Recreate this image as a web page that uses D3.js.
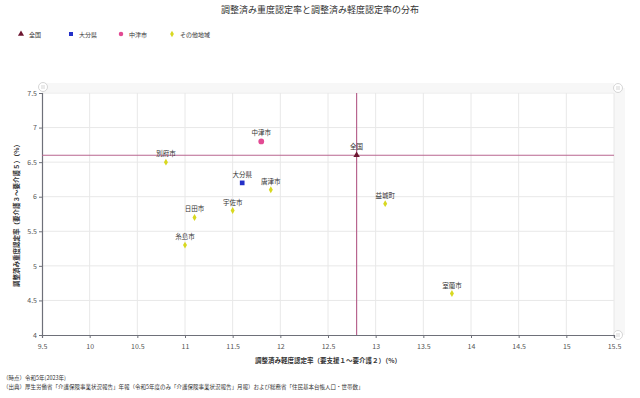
<!DOCTYPE html>
<html>
<head>
<meta charset="utf-8">
<script src="https://cdn.jsdelivr.net/npm/d3@7"></script>
<style>
  body { margin: 0; background: #fff; }
  text { font-family: "Noto Sans CJK JP", "Noto Sans", sans-serif; }
</style>
</head>
<body>
<div id="chart"></div>
<script>
// series
const nationName = '全国';
const nationPoint = [12.8, 6.6];
const prefName = '大分県';
const prefPoint = [11.6, 6.2];
const cityName = '中津市';
const cityPoint = [11.8, 6.8];
const otherNames = ['別府市', '唐津市', '宇佐市', '日田市', '糸島市', '益城町', '室蘭市'];
const otherLight = [10.8, 11.9, 11.5, 11.1, 11.0, 13.1, 13.8];
const otherHeavy = [6.5, 6.1, 5.8, 5.7, 5.3, 5.9, 4.6];
const legendNames = ['全国', '大分県', '中津市', 'その他地域'];
const xTicks = [9.5, 10, 10.5, 11, 11.5, 12, 12.5, 13, 13.5, 14, 14.5, 15, 15.5];
const yTicks = [4, 4.5, 5, 5.5, 6, 6.5, 7, 7.5];

const width = 640;
const height = 398;
const margin = { top: 93, right: 26, bottom: 63, left: 42 };

const svg = d3.select('#chart')
  .append('svg')
  .attr('width', width)
  .attr('height', height);

const x = d3.scaleLinear().domain([9.5, 15.5]).range([margin.left, width - margin.right]);
const y = d3.scaleLinear().domain([4, 7.5]).range([height - margin.bottom, margin.top]);

// title
svg.append('text')
  .attr('x', 320)
  .attr('y', 13)
  .attr('text-anchor', 'middle')
  .attr('font-size', 9)
  .attr('fill', '#333')
  .text('調整済み重度認定率と調整済み軽度認定率の分布');

// legend
const colors = ['#6d1630', '#2430c8', '#e24a93', '#d8d820'];
const symbols = [d3.symbolTriangle, d3.symbolSquare, d3.symbolCircle, d3.symbolDiamond];
const legendX = [21, 71, 121, 172];
const legend = svg.append('g').attr('class', 'legend');
legendNames.forEach((name, i) => {
  legend.append('path')
    .attr('d', d3.symbol().type(symbols[i]).size(i === 3 ? 12 : 16)())
    .attr('transform', `translate(${legendX[i]},34)`)
    .attr('fill', colors[i]);
  legend.append('text')
    .attr('x', legendX[i] + 8)
    .attr('y', 36.5)
    .attr('font-size', 6)
    .attr('fill', '#333')
    .text(name);
});

// zoom slider bands (faint)
svg.append('rect')
  .attr('x', margin.left).attr('y', 83)
  .attr('width', x(15.5) - margin.left).attr('height', 9)
  .attr('fill', '#f7f7f7');
svg.append('rect')
  .attr('x', x(15.5)).attr('y', 88)
  .attr('width', 11).attr('height', y(4) - 88)
  .attr('fill', '#f7f7f7');
[[margin.left + 1, 87], [x(15.5) + 4, 88], [x(15.5) + 4, y(4)]].forEach(([cx, cy]) => {
  svg.append('circle')
    .attr('cx', cx).attr('cy', cy).attr('r', 4.5)
    .attr('fill', '#fff').attr('stroke', '#ccc').attr('stroke-width', 0.8);
  svg.append('line')
    .attr('x1', cx - 1).attr('x2', cx - 1).attr('y1', cy - 2).attr('y2', cy + 2)
    .attr('stroke', '#bbb').attr('stroke-width', 0.6);
  svg.append('line')
    .attr('x1', cx + 1).attr('x2', cx + 1).attr('y1', cy - 2).attr('y2', cy + 2)
    .attr('stroke', '#bbb').attr('stroke-width', 0.6);
});

// grid
const grid = svg.append('g').attr('class', 'grid');
grid.selectAll('line.v')
  .data(xTicks.slice(1))
  .enter()
  .append('line')
  .attr('x1', d => x(d)).attr('x2', d => x(d))
  .attr('y1', y(7.5)).attr('y2', y(4))
  .attr('stroke', '#e8e8e8').attr('stroke-width', 1);
grid.selectAll('line.h')
  .data(yTicks.slice(1))
  .enter()
  .append('line')
  .attr('x1', x(9.5)).attr('x2', x(15.5))
  .attr('y1', d => y(d)).attr('y2', d => y(d))
  .attr('stroke', '#e8e8e8').attr('stroke-width', 1);

// axes
const xAxis = svg.append('g')
  .attr('transform', `translate(0,${y(4)})`)
  .call(d3.axisBottom(x).tickValues(xTicks).tickSize(3).tickFormat(d3.format('')));
const yAxis = svg.append('g')
  .attr('transform', `translate(${x(9.5)},0)`)
  .call(d3.axisLeft(y).tickValues(yTicks).tickSize(3).tickFormat(d3.format('')));
[xAxis, yAxis].forEach(ax => {
  ax.select('.domain').attr('stroke', '#6e7079').attr('stroke-width', 1.2);
  ax.selectAll('.tick line').attr('stroke', '#6e7079');
  ax.selectAll('.tick text')
    .attr('fill', '#555')
    .attr('font-size', 7)
    .style('font-family', '"Noto Sans CJK JP", sans-serif');
});
xAxis.selectAll('.tick text').attr('dy', '1.1em');
yAxis.selectAll('.tick text').attr('x', -5);

// axis titles
svg.append('text')
  .attr('x', 328)
  .attr('y', 363)
  .attr('text-anchor', 'middle')
  .attr('font-size', 6.5)
  .attr('font-weight', 'bold')
  .attr('fill', '#333')
  .text('調整済み軽度認定率（要支援１～要介護２）（%）');
svg.append('text')
  .attr('transform', `translate(19,${(y(4) + y(7.5)) / 2}) rotate(-90)`)
  .attr('text-anchor', 'middle')
  .attr('font-size', 6.5)
  .attr('font-weight', 'bold')
  .attr('fill', '#333')
  .text('調整済み重度認定率（要介護３～要介護５）（%）');

// national reference lines
const refColor = '#b8668f';
svg.append('line')
  .attr('x1', x(9.5)).attr('x2', x(15.5))
  .attr('y1', y(nationPoint[1])).attr('y2', y(nationPoint[1]))
  .attr('stroke', refColor).attr('stroke-width', 1.2);
svg.append('line')
  .attr('x1', x(nationPoint[0])).attr('x2', x(nationPoint[0]))
  .attr('y1', y(7.5)).attr('y2', y(4))
  .attr('stroke', refColor).attr('stroke-width', 1.2);

// points
const points = otherNames.map((name, i) => ({
  name, lx: otherLight[i], hy: otherHeavy[i], k: 3
}));
points.push({ name: prefName, lx: prefPoint[0], hy: prefPoint[1], k: 1 });
points.push({ name: cityName, lx: cityPoint[0], hy: cityPoint[1], k: 2 });
points.push({ name: nationName, lx: nationPoint[0], hy: nationPoint[1], k: 0 });

const sizes = [18, 22, 26, 14];
const pts = svg.append('g').attr('class', 'points')
  .selectAll('g')
  .data(points)
  .enter()
  .append('g')
  .attr('transform', d => `translate(${x(d.lx)},${y(d.hy)})`);
pts.append('path')
  .attr('d', d => d3.symbol().type(symbols[d.k]).size(sizes[d.k])())
  .attr('fill', d => colors[d.k]);
pts.append('text')
  .attr('y', -6)
  .attr('text-anchor', 'middle')
  .attr('font-size', 6.5)
  .attr('fill', '#333')
  .text(d => d.name);

// footnotes
svg.append('text')
  .attr('x', 3).attr('y', 380)
  .attr('font-size', 5.5).attr('fill', '#333')
  .text('（時点）令和5年(2023年)');
svg.append('text')
  .attr('x', 3).attr('y', 389)
  .attr('font-size', 5.5).attr('fill', '#333')
  .text('（出典）厚生労働省「介護保険事業状況報告」年報（令和5年度のみ「介護保険事業状況報告」月報）および総務省「住民基本台帳人口・世帯数」');
</script>
</body>
</html>
